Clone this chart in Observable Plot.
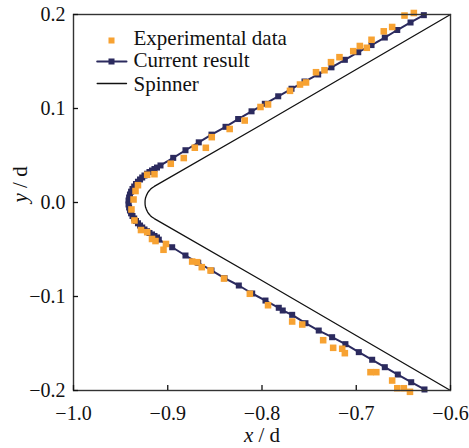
<!DOCTYPE html>
<html><head><meta charset="utf-8">
<script src="https://cdn.jsdelivr.net/npm/d3@7"></script>
<script src="https://cdn.jsdelivr.net/npm/@observablehq/plot@0.6"></script>
<style>body{margin:0;background:#fff} #chart{width:469px;height:448px}</style>
</head><body><div id="chart"></div>
<script>
// Tick values
const xTicks = [-1.0, -0.9, -0.8, -0.7, -0.6];
const yTicks = [-0.2, -0.1, 0.0, 0.1, 0.2];

// Experimental data (orange squares)
const expX = [-0.9363,-0.9342,-0.9316,-0.9218,-0.9141,-0.8968,-0.8830,-0.8713,-0.8596,-0.8533,-0.8343,-0.8183,-0.8016,-0.7936,-0.7703,-0.7597,-0.7533,-0.7427,-0.7337,-0.7268,-0.7178,-0.7032,-0.6962,-0.6888,-0.6838,-0.6708,-0.6619,-0.6488,-0.6389,
  -0.9385,-0.9353,-0.9284,-0.9218,-0.9167,-0.9130,-0.9045,-0.9019,-0.8741,-0.8688,-0.8639,-0.8546,-0.8403,-0.8129,-0.7936,-0.7680,-0.7573,-0.7351,-0.7245,-0.7149,-0.7121,-0.6849,-0.6787,-0.6619,-0.6565,-0.6495,-0.6430];
const expY = [0.0032,0.0122,0.0184,0.0295,0.0301,0.0412,0.0473,0.0583,0.0582,0.0695,0.0782,0.0872,0.1016,0.1043,0.1188,0.1255,0.1277,0.1386,0.1407,0.1493,0.1546,0.1610,0.1665,0.1646,0.1731,0.1821,0.1867,0.1989,0.2016,
  -0.0074,-0.0191,-0.0293,-0.0316,-0.0388,-0.0410,-0.0503,-0.0441,-0.0628,-0.0635,-0.0688,-0.0723,-0.0809,-0.0971,-0.1093,-0.1266,-0.1298,-0.1465,-0.1546,-0.1556,-0.1603,-0.1805,-0.1805,-0.1894,-0.1976,-0.1976,-0.2014];

// Current result (navy line with squares), from upper right around the nose to lower right
const curX = [-0.6283,-0.6424,-0.6565,-0.6697,-0.6838,-0.6979,-0.7121,-0.7263,-0.7404,-0.7549,-0.7687,-0.7828,-0.7970,-0.8111,-0.8253,-0.8387,-0.8536,-0.8671,-0.8812,-0.8942,-0.9077,
  -0.9114,-0.9141,-0.9167,-0.9194,-0.9220,-0.9247,-0.9271,-0.9294,-0.9316,-0.9337,-0.9356,-0.9374,-0.9389,-0.9401,-0.9410,-0.9416,
  -0.9416,-0.9410,-0.9401,-0.9389,-0.9374,-0.9356,-0.9337,-0.9316,-0.9294,-0.9271,-0.9247,-0.9220,-0.9194,-0.9167,-0.9141,-0.9114,
  -0.9095,-0.8953,-0.8812,-0.8677,-0.8536,-0.8398,-0.8246,-0.8104,-0.7963,-0.7822,-0.7780,-0.7680,-0.7539,-0.7398,-0.7256,-0.7115,-0.6973,-0.6831,-0.6697,-0.6559,-0.6417,-0.6276];
const curY = [0.1993,0.1915,0.1835,0.1755,0.1675,0.1599,0.1518,0.1438,0.1362,0.1287,0.1210,0.1130,0.1050,0.0970,0.0888,0.0805,0.0722,0.0640,0.0556,0.0475,0.0394,
  0.0372,0.0356,0.0340,0.0324,0.0306,0.0287,0.0266,0.0245,0.0221,0.0197,0.0170,0.0144,0.0115,0.0085,0.0053,0.0021,
  -0.0021,-0.0053,-0.0085,-0.0115,-0.0144,-0.0170,-0.0197,-0.0221,-0.0245,-0.0266,-0.0287,-0.0306,-0.0324,-0.0340,-0.0356,-0.0372,
  -0.0395,-0.0476,-0.0564,-0.0641,-0.0723,-0.0805,-0.0883,-0.0968,-0.1043,-0.1120,-0.1149,-0.1195,-0.1284,-0.1362,-0.1433,-0.1507,-0.1592,-0.1673,-0.1752,-0.1830,-0.1912,-0.1989];

// Spinner outline
const spinX = [-0.6000,-0.8016,-0.9143,-0.9164,-0.9184,-0.9201,-0.9215,-0.9226,-0.9235,-0.9240,-0.9241,-0.9240,-0.9235,-0.9226,-0.9215,-0.9201,-0.9184,-0.9164,-0.9143,-0.8016,-0.6000];
const spinY = [0.2000,0.0822,0.0171,0.0157,0.0140,0.0120,0.0099,0.0076,0.0051,0.0026,0.0000,-0.0026,-0.0051,-0.0076,-0.0099,-0.0120,-0.0140,-0.0157,-0.0171,-0.0822,-0.2000];

const legendLabels = ["Experimental data", "Current result", "Spinner"];

const exp = expX.map((x, i) => ({x, y: expY[i]}));
const cur = curX.map((x, i) => ({x, y: curY[i]}));
const spin = spinX.map((x, i) => ({x, y: spinY[i]}));

const orange = "#f7a232";
const navy = "#2b2a5e";
const font = "Liberation Serif";
const fmt = d3.format(".1f");
const lineShape = {draw(context, l) { context.moveTo(0, 0); context.lineTo(0, -l); }};

const plot = Plot.plot({
  width: 469, height: 448,
  marginLeft: 73, marginRight: 19, marginTop: 14, marginBottom: 58,
  style: {fontFamily: font, background: "#fff", color: "#111", overflow: "visible"},
  x: {domain: [-1.0, -0.6]},
  y: {domain: [-0.2, 0.2]},
  marks: [
    Plot.line(spin, {x: "x", y: "y", stroke: "#111", strokeWidth: 1.3}),
    Plot.line(cur, {x: "x", y: "y", stroke: navy, strokeWidth: 2}),
    Plot.dot(cur, {x: "x", y: "y", symbol: "square", r: 3.4, fill: navy}),
    Plot.dot(exp, {x: "x", y: "y", symbol: "square", r: 3.7, fill: orange}),
    Plot.frame({stroke: "#333", strokeWidth: 1.4}),
    Plot.axisX(xTicks, {anchor: "bottom", tickSize: -5, tickPadding: 20, tickFormat: fmt, fontSize: 20, fontFamily: font, label: null, strokeWidth: 1.3}),
    Plot.axisY(yTicks, {anchor: "left", tickSize: -5, tickPadding: 13, tickFormat: fmt, fontSize: 20, fontFamily: font, label: null, strokeWidth: 1.3}),
    // legend
    Plot.dot([0], {frameAnchor: "top-left", dx: 38, dy: 26, symbol: "square", r: 3.4, fill: orange}),
    Plot.vector([0], {frameAnchor: "top-left", dx: 23.7, dy: 47, length: 29.3, rotate: 90, anchor: "start", shape: lineShape, stroke: navy, strokeWidth: 2}),
    Plot.dot([0], {frameAnchor: "top-left", dx: 38, dy: 47, symbol: "square", r: 3.4, fill: navy}),
    Plot.vector([0], {frameAnchor: "top-left", dx: 23.7, dy: 69, length: 29.3, rotate: 90, anchor: "start", shape: lineShape, stroke: "#111", strokeWidth: 1.3}),
    Plot.text([legendLabels[0]], {frameAnchor: "top-left", dx: 60, dy: 23.3, textAnchor: "start", lineAnchor: "middle", fontSize: 21, fill: "#111"}),
    Plot.text([legendLabels[1]], {frameAnchor: "top-left", dx: 60, dy: 46, textAnchor: "start", lineAnchor: "middle", fontSize: 21, fill: "#111"}),
    Plot.text([legendLabels[2]], {frameAnchor: "top-left", dx: 60, dy: 69.3, textAnchor: "start", lineAnchor: "middle", fontSize: 21, fill: "#111"}),
    // axis titles
    Plot.text(["x / d"], {frameAnchor: "bottom", dy: 45, lineAnchor: "middle", fontSize: 21, fill: "#111"}),
    Plot.text(["y / d"], {frameAnchor: "left", dx: -53, rotate: -90, lineAnchor: "middle", fontSize: 21, fill: "#111"})
  ]
});

d3.select(plot).selectAll("text").filter(function() { return this.textContent === "x / d" || this.textContent === "y / d"; })
  .each(function() {
    const t = this.textContent;
    const s = d3.select(this);
    s.text(null);
    s.append("tspan").attr("font-style", "italic").text(t[0]);
    s.append("tspan").text(t.slice(1));
  });

document.getElementById("chart").appendChild(plot);
</script>
</body></html>
